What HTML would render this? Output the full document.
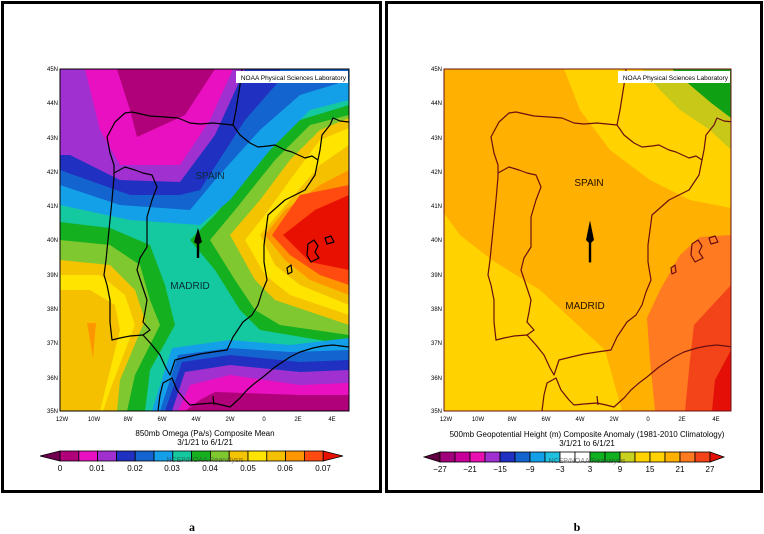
<!DOCTYPE html>
<html><head><meta charset="utf-8"><style>
html,body{margin:0;padding:0;background:#fff;}
svg{display:block;font-family:"Liberation Sans",sans-serif;}
</style></head><body>
<svg width="764" height="534" viewBox="0 0 764 534" xmlns="http://www.w3.org/2000/svg">
<defs>
<clipPath id="ca"><rect x="60" y="69" width="289" height="342"/></clipPath>
<clipPath id="cb"><rect x="444" y="69" width="287" height="342"/></clipPath>
<g id="coast" fill="none" stroke-width="1.2" stroke-linejoin="round">
<path d="M242,69 L240,85 L236,110 L233,125 L240,135 L250,143 L258,147 L268,146 L275,145 L285,150 L292,152 L305,158 L312,156 L318,160 L320,150 L322,135 L330,125 L333,118 L340,121 L349,122"/>
<path d="M233,125 L213,123 L200,124 L190,123 L178,118 L165,117 L150,116 L132,112 L125,113 L115,122 L107,137 L110,153 L114,165 L114,177 L112,200 L109,230 L106,260 L104,275 L107,285 L110,300 L110,322 L112,340 L120,338 L130,336 L143,335 L152,345 L160,355 L166,368 L170,375 L175,360 L187,357 L200,354 L213,352 L227,350 L233,337 L243,322 L252,315 L258,305 L262,292 L267,280 L264,262 L264,245 L268,215 L285,200 L305,190 L315,175 L318,160"/>
<path d="M114,173 L125,167 L135,170 L143,173 L152,175 L157,187 L152,200 L147,217 L147,235 L147,247 L140,258 L137,270 L142,285 L147,300 L145,312 L143,322 L150,330 L143,335"/>
<path d="M158,411 L160,395 L163,383 L172,378 L177,390 L185,400 L190,405 L200,404 L213,403 L222,405 L230,407 L240,398 L247,390 L255,383 L263,377 L275,367 L290,357 L300,352 L313,348 L323,346 L333,345 L349,347"/>
<path d="M213,396 L214,405"/>
<path d="M308,244 L314,240 L318,246 L315,252 L319,258 L311,262 L307,255 Z"/>
<path d="M325,238 L331,236 L334,242 L327,244 Z"/>
<path d="M287,268 L291,265 L292,272 L288,274 Z"/>
</g>
<path id="arrow" d="M0,-14 L4,0 L1.2,2 L1.2,16 L-1.2,16 L-1.2,2 L-4,0 Z"/>
</defs>

<!-- panel borders -->
<rect x="2.5" y="2.5" width="378" height="489" fill="none" stroke="#000" stroke-width="3"/>
<rect x="386.5" y="2.5" width="375" height="489" fill="none" stroke="#000" stroke-width="3"/>

<!-- ===== Panel a ===== -->
<g clip-path="url(#ca)">
<rect x="60" y="69" width="289" height="342" fill="#14c8a0"/>
<!-- east high -->
<polygon fill="#14b020" points="349,105 300,120 260,160 215,215 190,240 215,270 240,310 260,330 349,345"/>
<polygon fill="#80c830" points="349,115 310,125 275,160 235,210 210,240 235,280 255,310 280,325 349,335"/>
<polygon fill="#f5c400" points="349,118 320,130 290,160 260,200 230,235 255,280 275,300 349,325"/>
<polygon fill="#ffe400" points="349,128 320,140 290,180 265,215 245,240 265,275 290,295 349,315"/>
<polygon fill="#f5c000" points="349,145 320,165 290,200 260,235 275,265 300,285 349,305"/>
<polygon fill="#ff9600" points="349,170 320,185 285,210 265,235 285,260 310,280 349,295"/>
<polygon fill="#ff4a10" points="349,185 300,195 272,235 290,255 320,275 349,285"/>
<polygon fill="#e81000" points="349,195 315,210 283,235 310,262 349,270"/>
<!-- west high -->
<polygon fill="#14b020" points="60,222 110,228 150,245 165,285 175,325 150,370 145,411 60,411"/>
<polygon fill="#80c830" points="60,240 110,245 140,265 150,300 160,325 135,375 127,411 60,411"/>
<polygon fill="#f5c400" points="60,260 110,265 135,290 145,320 120,380 117,411 60,411"/>
<polygon fill="#ffe400" points="60,275 100,275 125,295 135,325 110,390 103,411 60,411"/>
<polygon fill="#f5c000" points="60,290 90,290 115,305 120,330 100,411 60,411"/>
<polygon fill="#ff9600" points="87,323 96,323 93,358"/>
<!-- north low -->
<polygon fill="#14a0e8" points="60,69 349,69 349,100 310,110 270,150 230,200 200,225 130,220 60,205"/>
<polygon fill="#1464d0" points="60,69 349,69 349,80 300,95 260,130 215,180 190,210 120,205 60,185"/>
<polygon fill="#2030c0" points="60,69 280,69 280,80 245,120 200,190 180,195 130,195 60,170"/>
<polygon fill="#a030d0" points="60,69 245,69 215,135 180,182 120,180 70,155 60,155"/>
<polygon fill="#e810c0" points="85,69 233,69 210,120 180,165 120,165 100,130"/>
<polygon fill="#b0007a" points="117,69 215,69 185,115 137,137 130,110"/>
<!-- south low -->
<polygon fill="#14a0e8" points="152,411 172,348 230,340 290,345 349,338 349,411"/>
<polygon fill="#1464d0" points="160,411 178,355 230,348 290,352 349,350 349,411"/>
<polygon fill="#2030c0" points="165,411 182,362 230,355 300,362 349,360 349,411"/>
<polygon fill="#a030d0" points="172,411 185,372 230,365 300,372 349,370 349,411"/>
<polygon fill="#e810c0" points="178,411 190,385 230,375 300,385 349,383 349,411"/>
<polygon fill="#b0007a" points="185,411 200,400 215,392 300,395 349,395 349,411"/>
<use href="#coast" stroke="#000"/>
</g>
<rect x="60" y="69" width="289" height="342" fill="none" stroke="#000" stroke-width="1"/>
<rect x="236" y="71" width="112" height="12" fill="#fff"/>
<text x="346" y="80" font-size="6.5" text-anchor="end">NOAA Physical Sciences Laboratory</text>
<use href="#arrow" transform="translate(198,242)" fill="#000"/>
<text x="210" y="179" font-size="10" text-anchor="middle" fill="#0a2a3a" transform="scale(1,1)">SPAIN</text>
<text x="190" y="289" font-size="10" text-anchor="middle" fill="#0a2a3a">MADRID</text>
<g font-size="6" text-anchor="end">
<text x="58" y="71">45N</text><text x="58" y="105">44N</text><text x="58" y="140">43N</text><text x="58" y="174">42N</text><text x="58" y="208">41N</text><text x="58" y="242">40N</text><text x="58" y="277">39N</text><text x="58" y="311">38N</text><text x="58" y="345">37N</text><text x="58" y="380">36N</text><text x="58" y="413">35N</text>
</g>
<g font-size="6" text-anchor="middle">
<text x="62" y="421">12W</text><text x="94" y="421">10W</text><text x="128" y="421">8W</text><text x="162" y="421">6W</text><text x="196" y="421">4W</text><text x="230" y="421">2W</text><text x="264" y="421">0</text><text x="298" y="421">2E</text><text x="332" y="421">4E</text>
</g>
<text x="205" y="436" font-size="8" text-anchor="middle">850mb Omega (Pa/s) Composite Mean</text>
<text x="205" y="445" font-size="8" text-anchor="middle">3/1/21  to 6/1/21</text>
<!-- colorbar a -->
<g stroke="#000" stroke-width="0.8">
<polygon points="40,456 60,451 60,461" fill="#700050"/>
<rect x="60" y="451" width="18.8" height="10" fill="#b0007a"/>
<rect x="78.8" y="451" width="18.8" height="10" fill="#e810c0"/>
<rect x="97.6" y="451" width="18.8" height="10" fill="#a030d0"/>
<rect x="116.4" y="451" width="18.8" height="10" fill="#2030c0"/>
<rect x="135.2" y="451" width="18.8" height="10" fill="#1464d0"/>
<rect x="154" y="451" width="18.8" height="10" fill="#14a0e8"/>
<rect x="172.8" y="451" width="18.8" height="10" fill="#14c8a0"/>
<rect x="191.6" y="451" width="18.8" height="10" fill="#14b020"/>
<rect x="210.4" y="451" width="18.8" height="10" fill="#80c830"/>
<rect x="229.2" y="451" width="18.8" height="10" fill="#f5c400"/>
<rect x="248" y="451" width="18.8" height="10" fill="#ffe400"/>
<rect x="266.8" y="451" width="18.8" height="10" fill="#f5c000"/>
<rect x="285.6" y="451" width="18.8" height="10" fill="#ff9600"/>
<rect x="304.4" y="451" width="18.8" height="10" fill="#ff4a10"/>
<polygon points="323.2,451 343,456 323.2,461" fill="#e81000"/>
</g>
<text x="205" y="462" font-size="7" text-anchor="middle" fill="#333" opacity="0.6">NCEP/NOAA Reanalysis</text>
<g font-size="8" text-anchor="middle">
<text x="60" y="471">0</text><text x="97" y="471">0.01</text><text x="135" y="471">0.02</text><text x="172" y="471">0.03</text><text x="210" y="471">0.04</text><text x="248" y="471">0.05</text><text x="285" y="471">0.06</text><text x="323" y="471">0.07</text>
</g>
<text x="192" y="531" font-size="12" font-weight="bold" text-anchor="middle" font-family="Liberation Serif,serif">a</text>

<!-- ===== Panel b ===== -->
<g clip-path="url(#cb)">
<rect x="444" y="69" width="287" height="342" fill="#ffb000"/>
<polygon fill="#ffd200" points="564,69 731,69 731,208 690,200 650,180 610,150 580,110"/>
<polygon fill="#c8c818" points="642,69 731,69 731,150 710,130 680,110 660,90"/>
<polygon fill="#10a014" points="672,69 731,69 731,118 710,102 690,85"/>
<polygon fill="#ffd200" points="444,213 460,235 492,260 540,290 605,350 622,411 444,411"/>
<polygon fill="#ff7a20" points="731,235 700,237 680,255 660,290 647,318 650,360 655,411 731,411"/>
<polygon fill="#f24418" points="731,285 694,325 690,360 685,411 731,411"/>
<polygon fill="#e41008" points="731,350 715,380 712,411 731,411"/>
<use href="#coast" stroke="#6a1010" transform="translate(384,0)"/>
</g>
<rect x="444" y="69" width="287" height="342" fill="none" stroke="#6a1010" stroke-width="1"/>
<rect x="618" y="71" width="112" height="12" fill="#fff"/>
<text x="728" y="80" font-size="6.5" text-anchor="end">NOAA Physical Sciences Laboratory</text>
<use href="#arrow" transform="translate(590,240) scale(1,1.4)" fill="#000"/>
<text x="589" y="186" font-size="10" text-anchor="middle" fill="#201000">SPAIN</text>
<text x="585" y="309" font-size="10" text-anchor="middle" fill="#201000">MADRID</text>
<g font-size="6" text-anchor="end">
<text x="442" y="71">45N</text><text x="442" y="105">44N</text><text x="442" y="140">43N</text><text x="442" y="174">42N</text><text x="442" y="208">41N</text><text x="442" y="242">40N</text><text x="442" y="277">39N</text><text x="442" y="311">38N</text><text x="442" y="345">37N</text><text x="442" y="380">36N</text><text x="442" y="413">35N</text>
</g>
<g font-size="6" text-anchor="middle">
<text x="446" y="421">12W</text><text x="478" y="421">10W</text><text x="512" y="421">8W</text><text x="546" y="421">6W</text><text x="580" y="421">4W</text><text x="614" y="421">2W</text><text x="648" y="421">0</text><text x="682" y="421">2E</text><text x="716" y="421">4E</text>
</g>
<text x="587" y="437" font-size="8" text-anchor="middle">500mb Geopotential Height (m) Composite Anomaly (1981-2010 Climatology)</text>
<text x="587" y="446" font-size="8" text-anchor="middle">3/1/21  to 6/1/21</text>
<!-- colorbar b -->
<g stroke="#000" stroke-width="0.8">
<polygon points="424,457 440,452 440,462" fill="#600040"/>
<rect x="440" y="452" width="15" height="10" fill="#a0007a"/>
<rect x="455" y="452" width="15" height="10" fill="#c8009a"/>
<rect x="470" y="452" width="15" height="10" fill="#e810b0"/>
<rect x="485" y="452" width="15" height="10" fill="#a030d0"/>
<rect x="500" y="452" width="15" height="10" fill="#2030c0"/>
<rect x="515" y="452" width="15" height="10" fill="#1464d0"/>
<rect x="530" y="452" width="15" height="10" fill="#14a0e8"/>
<rect x="545" y="452" width="15" height="10" fill="#20c0e0"/>
<rect x="560" y="452" width="15" height="10" fill="#fff"/>
<rect x="575" y="452" width="15" height="10" fill="#fff"/>
<rect x="590" y="452" width="15" height="10" fill="#10b020"/>
<rect x="605" y="452" width="15" height="10" fill="#10b020"/>
<rect x="620" y="452" width="15" height="10" fill="#c8d020"/>
<rect x="635" y="452" width="15" height="10" fill="#ffd200"/>
<rect x="650" y="452" width="15" height="10" fill="#ffd200"/>
<rect x="665" y="452" width="15" height="10" fill="#ffb000"/>
<rect x="680" y="452" width="15" height="10" fill="#ff7a20"/>
<rect x="695" y="452" width="15" height="10" fill="#f24418"/>
<polygon points="710,452 724,457 710,462" fill="#e41008"/>
</g>
<text x="587" y="463" font-size="7" text-anchor="middle" fill="#333" opacity="0.6">NCEP/NOAA Reanalysis</text>
<g font-size="8" text-anchor="middle">
<text x="440" y="472">−27</text><text x="470" y="472">−21</text><text x="500" y="472">−15</text><text x="530" y="472">−9</text><text x="560" y="472">−3</text><text x="590" y="472">3</text><text x="620" y="472">9</text><text x="650" y="472">15</text><text x="680" y="472">21</text><text x="710" y="472">27</text>
</g>
<text x="577" y="531" font-size="12" font-weight="bold" text-anchor="middle" font-family="Liberation Serif,serif">b</text>
</svg>
</body></html>
